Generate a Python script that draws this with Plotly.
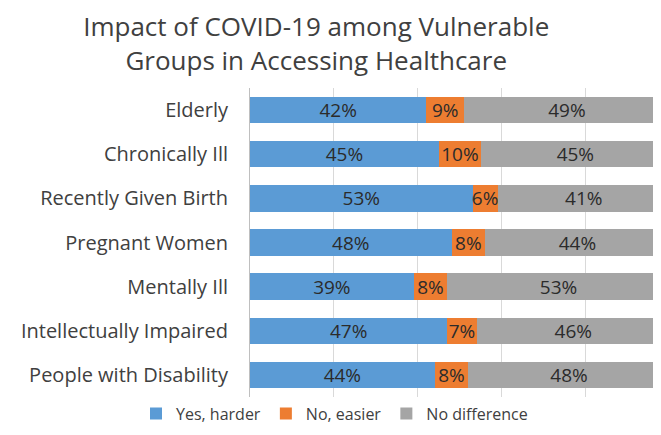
import plotly.graph_objects as go

# Survey groups (top to bottom as drawn)
groups = ["Elderly", "Chronically Ill", "Recently Given Birth", "Pregnant Women",
          "Mentally Ill", "Intellectually Impaired", "People with Disability"]

# Share of answers, in percent
yes_harder = [42, 45, 53, 48, 39, 47, 44]
no_easier = [9, 10, 6, 8, 8, 7, 8]
no_difference = [49, 45, 41, 44, 53, 46, 48]

series = [
    ("Yes, harder", yes_harder, "#5B9BD5"),
    ("No, easier", no_easier, "#ED7D31"),
    ("No difference", no_difference, "#A5A5A5"),
]

FONT = "Open Sans"

fig = go.Figure()

for name, values, color in series:
    fig.add_trace(go.Bar(
        y=groups,
        x=values,
        name=name,
        orientation="h",
        marker=dict(color=color, line=dict(width=0)),
        text=[f"{v}%" for v in values],
        textposition="inside",
        insidetextanchor="middle",
        constraintext="none",
        textangle=0,
        textfont=dict(family=FONT, size=19, color="#2b2b2b"),
        width=0.6,
    ))

# the page body keeps its default 8px margin, so the figure is 8px smaller
fig.update_layout(
    barmode="stack",
    width=653,
    height=427,
    margin=dict(l=242, r=0, t=80, b=38, autoexpand=False),
    paper_bgcolor="white",
    plot_bgcolor="white",
    font=dict(family=FONT, size=18, color="#404040"),
    title=dict(
        text="Impact of COVID-19 among Vulnerable<br>Groups in Accessing Healthcare",
        x=0.472, xref="container", xanchor="center",
        y=0.934, yref="container", yanchor="middle",
        font=dict(family=FONT, size=26, color="#404040"),
    ),
    showlegend=True,
    legend=dict(
        orientation="h",
        x=0.5, xref="container", xanchor="center",
        y=0.05, yref="container", yanchor="middle",
        font=dict(family=FONT, size=16, color="#404040"),
        traceorder="normal",
        itemwidth=30,
    ),
)

fig.update_xaxes(
    range=[0, 97.9],
    dtick=20,
    showgrid=True,
    gridcolor="#D9D9D9",
    showticklabels=False,
    zeroline=False,
    fixedrange=True,
    automargin=False,
)

fig.update_yaxes(
    categoryorder="array",
    categoryarray=groups[::-1],
    showline=True,
    linecolor="#BFBFBF",
    ticks="",
    automargin=False,
    ticklabelstandoff=17,
    tickfont=dict(family=FONT, size=20, color="#404040"),
)

fig.write_html("out.html")
